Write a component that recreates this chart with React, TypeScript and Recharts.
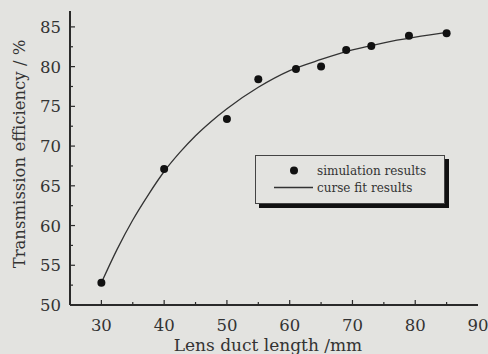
import React from "react";
import {
  ComposedChart,
  XAxis,
  YAxis,
  Scatter,
  Line,
  Legend,
} from "recharts";

const simX = [30, 40, 50, 55, 61, 65, 69, 73, 79, 85];
const simY = [52.8, 67.1, 73.4, 78.4, 79.7, 80.0, 82.1, 82.6, 83.9, 84.2];

const fitX = [30, 32.5, 35, 37.5, 40, 42.5, 45, 47.5, 50, 55, 60, 65, 70, 75, 80, 85];
const fitY = [52.8, 57.0, 60.7, 63.9, 66.8, 69.2, 71.3, 73.1, 74.7, 77.4, 79.5, 80.9, 82.1, 83.0, 83.7, 84.3];

const xTicks = [30, 35, 40, 45, 50, 55, 60, 65, 70, 75, 80, 85, 90];
const yTicks = [50, 52.5, 55, 57.5, 60, 62.5, 65, 67.5, 70, 72.5, 75, 77.5, 80, 82.5, 85];

const simData = simX.map((x, i) => ({ x, y: simY[i] }));
const fitData = fitX.map((x, i) => ({ x, y: fitY[i] }));

const FONT = "'DejaVu Serif', serif";
const INK = "#2a2a2a";
const BG = "#e3e3e0";

const XTick = (props: any) => {
  const { x, y, payload } = props;
  const v = payload.value;
  const major = v % 10 === 0;
  return (
    <g>
      {v < 90 && (
        <line x1={x} x2={x} y1={y} y2={y - (major ? 5 : 3)} stroke={INK} strokeWidth={1.2} />
      )}
      {major && (
        <text x={x} y={y + 26} textAnchor="middle" fontFamily={FONT} fontSize={16.5} fill="#333">
          {v}
        </text>
      )}
    </g>
  );
};

const YTick = (props: any) => {
  const { x, y, payload } = props;
  const v = payload.value;
  const major = v % 5 === 0;
  return (
    <g>
      {v > 50 && (
        <line x1={x} x2={x + (major ? 5 : 3)} y1={y} y2={y} stroke={INK} strokeWidth={1.2} />
      )}
      {major && (
        <text x={x - 9} y={y + 6} textAnchor="end" fontFamily={FONT} fontSize={16.5} fill="#333">
          {v}
        </text>
      )}
    </g>
  );
};

const LegendBox = (props: any) => {
  const items = [...(props.payload || [])].sort((a: any, b: any) =>
    a.type === "circle" ? -1 : b.type === "circle" ? 1 : 0
  );
  return (
    <div
      style={{
        width: 190,
        height: 49,
        border: "1.5px solid #444",
        boxShadow: "4px 4px 0 #111",
        background: BG,
        fontFamily: FONT,
        fontSize: 12,
        color: "#333",
        boxSizing: "border-box",
        paddingTop: 6,
      }}
    >
      {items.map((p: any, i: number) => (
        <div key={i} style={{ display: "flex", alignItems: "center", height: 17 }}>
          <svg width={60} height={17} style={{ flex: "none" }}>
            {p.type === "circle" ? (
              <circle cx={38} cy={8.5} r={4} fill="#111" />
            ) : (
              <line x1={18} x2={57} y1={8.5} y2={8.5} stroke="#333" strokeWidth={1.3} />
            )}
          </svg>
          <span style={{ marginLeft: 1, whiteSpace: "nowrap" }}>{p.value}</span>
        </div>
      ))}
    </div>
  );
};

const Dot = (props: any) => {
  const { cx, cy } = props;
  return <circle cx={cx} cy={cy} r={4} fill="#111" />;
};

export default function App() {
  return (
    <div style={{ position: "absolute", left: 0, top: 0, width: 488, height: 354, background: BG }}>
      <ComposedChart
        width={488}
        height={354}
        margin={{ top: 11, right: 10, bottom: 0, left: 0 }}
      >
        <XAxis
          xAxisId="top"
          orientation="top"
          type="number"
          dataKey="x"
          domain={[25, 90]}
          height={0}
          tick={false}
          tickLine={false}
          axisLine={{ stroke: INK, strokeWidth: 2 }}
        />
        <YAxis
          yAxisId="right"
          orientation="right"
          type="number"
          domain={[50, 87]}
          width={0}
          tick={false}
          tickLine={false}
          axisLine={{ stroke: INK, strokeWidth: 2 }}
        />
        <XAxis
          type="number"
          dataKey="x"
          domain={[25, 90]}
          ticks={xTicks}
          interval={0}
          height={49}
          tickSize={0}
          tickMargin={0}
          tickLine={false}
          tick={<XTick />}
          axisLine={{ stroke: INK, strokeWidth: 2 }}
          label={() => (
            <text
              x={268}
              y={351}
              textAnchor="middle"
              fontFamily={FONT}
              fontSize={17}
              fill="#333"
            >
              Lens duct length /mm
            </text>
          )}
        />
        <YAxis
          type="number"
          domain={[50, 87]}
          ticks={yTicks}
          interval={0}
          width={70}
          tickSize={0}
          tickMargin={0}
          tickLine={false}
          tick={<YTick />}
          axisLine={{ stroke: INK, strokeWidth: 2 }}
          label={() => {
            const cx = 25;
            const cy = 154;
            return (
              <text
                x={cx}
                y={cy}
                transform={`rotate(-90, ${cx}, ${cy})`}
                textAnchor="middle"
                fontFamily={FONT}
                fontSize={16.5}
                fill="#333"
              >
                Transmission efficiency / %
              </text>
            );
          }}
        />
        <Legend
          layout="horizontal"
          verticalAlign="middle"
          align="center"
          content={<LegendBox />}
          wrapperStyle={{ position: "absolute", left: 255, top: 155, width: 196, height: 53 }}
        />
        <Line
          data={fitData}
          dataKey="y"
          name="curse fit results"
          type="monotone"
          stroke="#333"
          strokeWidth={1.3}
          dot={false}
          legendType="line"
          isAnimationActive={false}
        />
        <Scatter
          data={simData}
          dataKey="y"
          name="simulation results"
          shape={<Dot />}
          legendType="circle"
          isAnimationActive={false}
        />
      </ComposedChart>
    </div>
  );
}
